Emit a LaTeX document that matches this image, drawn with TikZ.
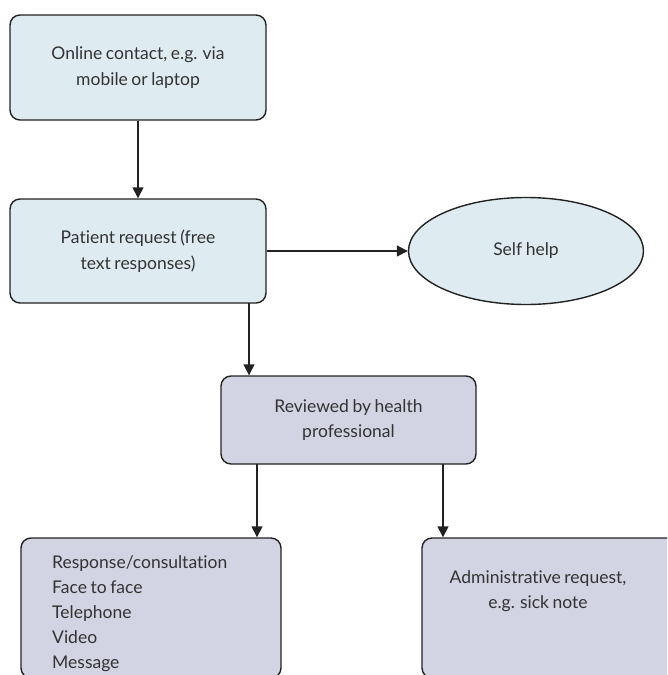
\documentclass[tikz,border=0pt]{standalone}
\usepackage{fontspec}
\setmainfont{Lato}[RawFeature={-liga},WordSpace=0.8]
\usetikzlibrary{shapes.geometric,arrows.meta}
\definecolor{lblue}{HTML}{DEECF1}
\definecolor{lav}{HTML}{D2D3E3}
\definecolor{txt}{HTML}{333333}
\definecolor{edge}{HTML}{222222}
\begin{document}
\begin{tikzpicture}[x=1pt,y=-1pt,
  box/.style={draw=edge,line width=1.4pt,rounded corners=10pt,text=txt,font=\fontsize{17.5}{25.5}\selectfont,align=center,inner sep=0pt},
  conn/.style={draw=edge,line width=1.4pt,-{Triangle[length=11pt,width=11pt]}}]
\useasboundingbox (0,0) rectangle (667,675);
\begin{scope}
\clip (0,0) rectangle (667,675);
\node[box,fill=lblue,minimum width=256pt,minimum height=105pt] (a) at (138,67.5) {Online contact, e.g. via\\mobile or laptop};
\node[box,fill=lblue,minimum width=256pt,minimum height=104pt] (b) at (138,251) {Patient request (free\\text responses)};
\node[draw=edge,line width=1.4pt,fill=lblue,ellipse,minimum width=235pt,minimum height=107pt,text=txt,font=\fontsize{17.5}{25.5}\selectfont] (s) at (526,251) {Self help};
\node[box,fill=lav,minimum width=255pt,minimum height=88pt] (r) at (348.5,420) {Reviewed by health\\professional};
\node[box,fill=lav,minimum width=260pt,minimum height=140pt] (c) at (151,608) {};
\node[text=txt,font=\fontsize{17.5}{25}\selectfont,align=left,anchor=north west,inner sep=0pt] (ct) at (52,555) {Response/consultation\\Face to face\\Telephone\\Video\\Message};
\node[box,fill=lav,minimum width=268pt,minimum height=140pt] (d) at (556,608) {};
\node[text=txt,font=\fontsize{17.5}{25.5}\selectfont,align=center,inner sep=0pt] (dt) at (538,591) {Administrative request,\\e.g. sick note};
\coordinate (b1) at (249,303);
\coordinate (r1) at (257,464);
\coordinate (r2) at (443,464);
\end{scope}
\draw[conn] (a.south) -- (b.north);
\draw[conn] (b.east) -- (s.west);
\draw[conn] (b1) -- (b1 |- r.north);
\draw[conn] (r1) -- (r1 |- c.north);
\draw[conn] (r2) -- (r2 |- d.north);
\end{tikzpicture}
\end{document}
